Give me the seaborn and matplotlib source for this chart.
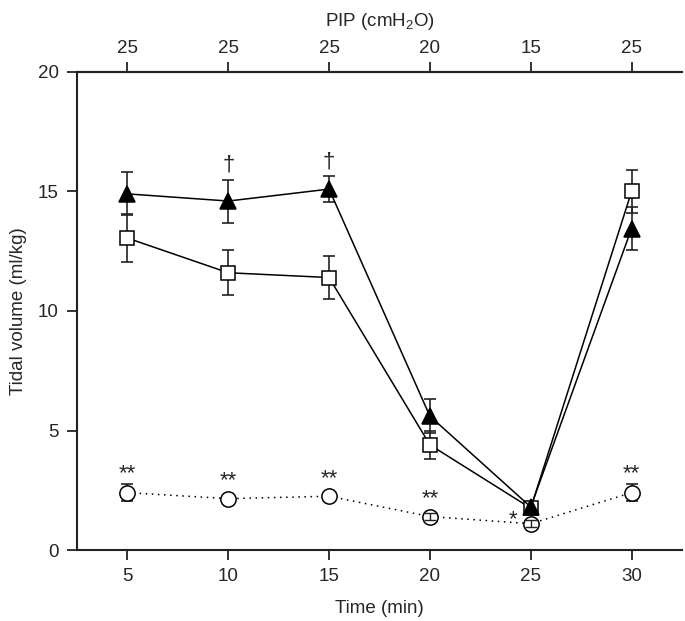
#!/usr/bin/env python3
"""Tidal volume over time for three ventilation groups, PIP on the top axis."""

import matplotlib
matplotlib.use("Agg")
import matplotlib.pyplot as plt
import seaborn as sns
import numpy as np
import pandas as pd

# values
time_min = [5, 10, 15, 20, 25, 30]
pip_labels = ["25", "25", "25", "20", "15", "25"]

tri_mean = [14.9, 14.6, 15.1, 5.6, 1.8, 13.45]
tri_err = [0.9, 0.9, 0.55, 0.7, 0.2, 0.9]
sq_mean = [13.05, 11.6, 11.4, 4.4, 1.75, 15.0]
sq_err = [1.0, 0.95, 0.9, 0.6, 0.25, 0.9]
circ_mean = [2.4, 2.15, 2.25, 1.4, 1.1, 2.4]
circ_err = [0.35, 0.0, 0.0, 0.15, 0.15, 0.35]

circ_marks = ["**", "**", "**", "**", "*", "**"]
tri_marks = ["", "\u2020", "\u2020", "", "", ""]

FS = 13.5
INK = "#222222"


def main() -> None:
    sns.set_theme(style="ticks")
    plt.rcParams["font.family"] = ["Liberation Sans", "DejaVu Sans"]
    plt.rcParams["mathtext.default"] = "regular"

    fig = plt.figure(figsize=(6.85, 6.21), dpi=100)
    ax = fig.add_axes([0.1124, 0.1143, 0.8832, 0.7698])

    df = pd.DataFrame({
        "time": time_min * 3,
        "vt": tri_mean + sq_mean + circ_mean,
        "err": tri_err + sq_err + circ_err,
        "group": ["tri"] * 6 + ["sq"] * 6 + ["circ"] * 6,
    })

    styles = {
        "tri": dict(marker="^", ms=12, mfc="black", ls="-"),
        "sq": dict(marker="s", ms=10, mfc="white", ls="-"),
        "circ": dict(marker="o", ms=11, mfc="white", ls=(0, (1, 3))),
    }

    for grp in ["circ", "sq", "tri"]:
        sub = df[df["group"] == grp]
        ax.errorbar(sub["time"], sub["vt"], yerr=sub["err"], fmt="none",
                    ecolor=INK, elinewidth=1.2, capsize=4, capthick=1.2, zorder=2)
        st = styles[grp]
        sns.lineplot(data=sub, x="time", y="vt", ax=ax, color="black",
                     linewidth=1.1, linestyle=st["ls"], marker=st["marker"],
                     markersize=st["ms"], markerfacecolor=st["mfc"],
                     markeredgecolor="black", markeredgewidth=1.1, zorder=3)
        if grp == "circ":
            # small error bars show through the open circles
            small = sub[(sub["err"] > 0) & (sub["err"] < 0.3)]
            ax.errorbar(small["time"], small["vt"], yerr=small["err"], fmt="none",
                        ecolor=INK, elinewidth=1.0, capsize=4, capthick=1.0, zorder=4)

    # significance marks
    for t, m, e, s in zip(time_min, circ_mean, circ_err, circ_marks):
        if s == "*":
            ax.text(t - 0.9, m + 0.15, s, ha="center", va="center", fontsize=16)
        else:
            ax.text(t, max(m + e, m + 0.3) + 0.45, s, ha="center", va="center", fontsize=16)
    for t, m, e, s in zip(time_min, tri_mean, tri_err, tri_marks):
        if s:
            ax.text(t, m + e + 0.6, s, ha="center", va="center", fontsize=16)

    ax.set_xlim(2.5, 32.5)
    ax.set_ylim(0, 20)
    ax.set_xticks(time_min)
    ax.set_yticks([0, 5, 10, 15, 20])
    ax.set_xlabel("Time (min)", fontsize=FS, labelpad=11)
    ax.set_ylabel("Tidal volume (ml/kg)", fontsize=FS, labelpad=8)
    ax.tick_params(axis="both", direction="out", length=7, width=1.3, labelsize=FS,
                   color=INK, pad=6)

    ax.spines["right"].set_visible(False)
    for sp in ["left", "bottom", "top"]:
        ax.spines[sp].set_linewidth(1.5)
        ax.spines[sp].set_color(INK)

    top = ax.secondary_xaxis("top")
    top.set_xticks(time_min)
    top.set_xticklabels(pip_labels)
    top.set_xlabel("PIP (cmH$_2$O)", fontsize=FS, labelpad=10)
    top.tick_params(direction="out", length=7, width=1.3, labelsize=FS, color=INK, pad=4)
    top.spines["top"].set_linewidth(1.5)
    top.spines["top"].set_color(INK)

    if ax.get_legend():
        ax.get_legend().remove()

    fig.savefig("out.png", dpi=100)
    plt.close(fig)


if __name__ == "__main__":
    main()
